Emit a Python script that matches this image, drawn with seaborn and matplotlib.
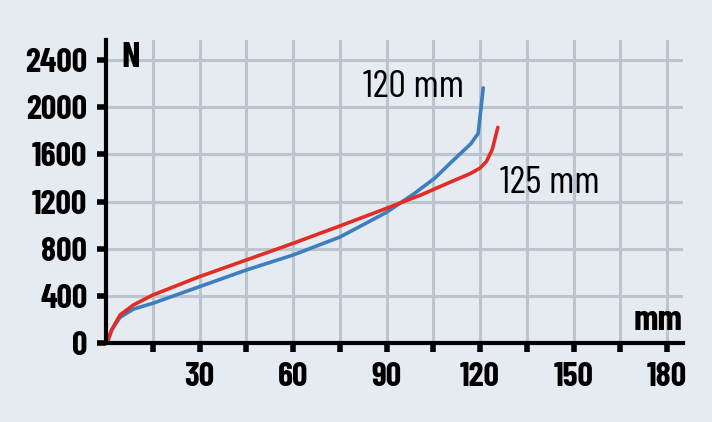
import pandas as pd
import matplotlib.pyplot as plt
import seaborn as sns

# --- data (mm travel vs force N) ---
x_120 = [0.5, 1.8, 4.5, 8.8, 15, 30, 45, 60, 75, 90, 99, 105.5, 111, 117, 119.4, 121]
n_120 = [15, 113, 220, 290, 339, 480, 621, 748, 900, 1110, 1271, 1400, 1541, 1690, 1779, 2164]
x_125 = [0.5, 1.8, 4.5, 8.8, 15, 30, 45, 60, 75, 90, 101, 111, 117, 120, 122, 123.9, 125.7]
n_125 = [15, 113, 240, 325, 409, 565, 706, 847, 994, 1144, 1257, 1372, 1440, 1485, 1540, 1642, 1830]

x_ticks = [15, 30, 45, 60, 75, 90, 105, 120, 135, 150, 165, 180]
x_labels = ['', '30', '', '60', '', '90', '', '120', '', '150', '', '180']
y_ticks = [0, 400, 800, 1200, 1600, 2000, 2400]

bg = '#e6ebf1'
grid_col = '#bcc5cd'

sns.set_style("white", {'axes.facecolor': bg, 'figure.facecolor': bg})
plt.rcParams['font.family'] = ['Barlow Condensed', 'Roboto Condensed', 'Archivo Narrow', 'DejaVu Sans']
plt.rcParams['text.color'] = 'black'
plt.rcParams['xtick.color'] = 'black'
plt.rcParams['ytick.color'] = 'black'
plt.rcParams['xtick.bottom'] = True
plt.rcParams['ytick.left'] = True

df = pd.concat([
    pd.DataFrame({'mm': x_120, 'N': n_120, 'serie': '120 mm'}),
    pd.DataFrame({'mm': x_125, 'N': n_125, 'serie': '125 mm'}),
])

fig = plt.figure(figsize=(7.12, 4.22), dpi=100)
ax = fig.add_axes([0.1489, 0.1865, 0.8104, 0.7187])

ax.set_xticks(x_ticks)
ax.set_yticks(y_ticks)
ax.grid(True, color=grid_col, linewidth=2.2)
ax.set_axisbelow(True)

sns.lineplot(data=df, x='mm', y='N', hue='serie', sort=False, estimator=None,
             palette={'120 mm': '#3d7ebf', '125 mm': '#e42c26'},
             linewidth=2.6, legend=False, ax=ax)

ax.set_xlim(0, 185.1)
ax.set_ylim(0, 2570)
ax.set_xticklabels(x_labels)
ax.set_xlabel('')
ax.set_ylabel('')

for s in ['top', 'right']:
    ax.spines[s].set_visible(False)
for s in ['left', 'bottom']:
    ax.spines[s].set_linewidth(3)
    ax.spines[s].set_color('black')

ax.tick_params(axis='both', direction='out', length=6.5, width=4, color='black',
               labelcolor='black', labelsize=24.5)
ax.tick_params(axis='y', pad=7)
ax.tick_params(axis='x', pad=7)
for lab in ax.get_xticklabels() + ax.get_yticklabels():
    lab.set_fontweight('bold')

ax.text(0.027, 0.995, 'N', transform=ax.transAxes, fontsize=26, fontweight='bold',
        ha='left', va='top')
ax.text(1.0, 0.044, 'mm', transform=ax.transAxes, fontsize=26, fontweight='bold',
        ha='right', va='baseline')

ax.text(82.5, 2090, '120 mm', fontsize=28, ha='left', va='baseline')
ax.text(126.5, 1275, '125 mm', fontsize=28, ha='left', va='baseline')

plt.savefig('out.png', dpi=100, facecolor=bg)
plt.close()
